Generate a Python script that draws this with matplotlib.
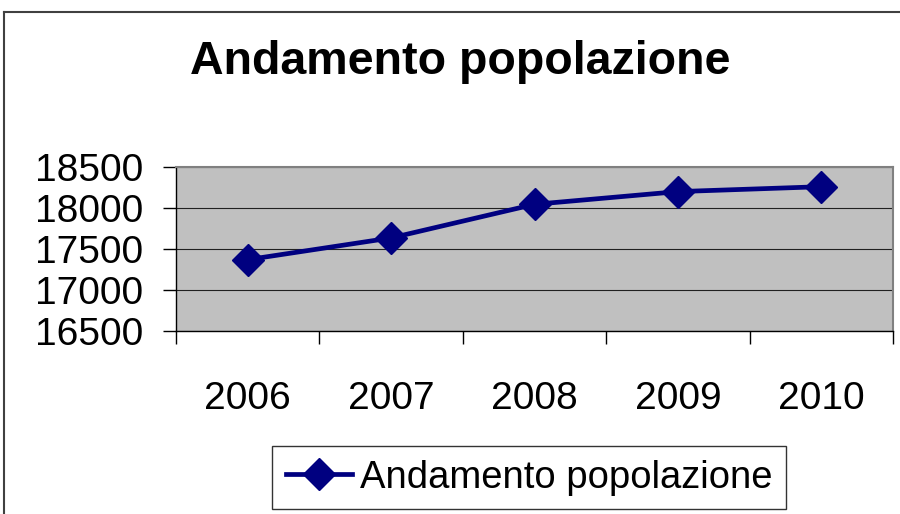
"""Andamento popolazione 2006-2010: Excel-style line chart."""
import matplotlib
matplotlib.use("Agg")
import matplotlib.pyplot as plt
from matplotlib.lines import Line2D

plt.rcParams["font.family"] = ["Liberation Sans", "DejaVu Sans"]

anni = ["2006", "2007", "2008", "2009", "2010"]
popolazione = [17370, 17635, 18045, 18200, 18260]
y_ticks = [16500, 17000, 17500, 18000, 18500]
titolo = "Andamento popolazione"
serie = "Andamento popolazione"

fig = plt.figure(figsize=(9, 5.14), dpi=100)
W, H = 900, 514
ax = fig.add_axes([176 / W, 1 - 331 / H, (893 - 176) / W, (331 - 167) / H])
ax.set_facecolor("#C0C0C0")

x = list(range(len(anni)))
ax.plot(x, popolazione, color="#000080", lw=3.4, marker="D", ms=16,
        mfc="#000080", mec="#000080", label=serie, solid_joinstyle="round")

ax.set_xlim(-0.5, len(anni) - 0.5)
ax.set_ylim(y_ticks[0], y_ticks[-1])
ax.set_yticks(y_ticks)
ax.set_yticklabels([str(v) for v in y_ticks])
ax.set_xticks(x)
ax.set_xticklabels(anni)
ax.set_xticks([i - 0.5 for i in range(len(anni) + 1)], minor=True)
ax.tick_params(axis="x", which="major", length=0, pad=36, labelsize=28)
ax.tick_params(axis="x", which="minor", length=9, width=1, color="black")
ax.tick_params(axis="y", length=9.5, width=1, pad=14, labelsize=28, color="black")
ax.yaxis.grid(True, color="#202020", lw=0.8)
ax.set_axisbelow(True)

for side in ("top", "right"):
    ax.spines[side].set_color("#808080")
    ax.spines[side].set_linewidth(1.5)
for side in ("left", "bottom"):
    ax.spines[side].set_color("black")
    ax.spines[side].set_linewidth(1)

fig.text(460 / W, 1 - 62 / H, titolo, ha="center", va="center",
         fontsize=33.5, fontweight="bold")

leg = fig.legend(loc="center", bbox_to_anchor=(529 / W, 1 - 477.5 / H),
                 fontsize=27.5, frameon=True, fancybox=False, edgecolor="black",
                 handlelength=1.75, handletextpad=0.2, borderpad=0.35,
                 borderaxespad=0)
leg.get_frame().set_linewidth(1)

# outer chart border (left and top edges visible)
fig.add_artist(Line2D([4 / W, 4 / W], [0, 1 - 12 / H], color="#404040", lw=1.5))
fig.add_artist(Line2D([4 / W, 1], [1 - 12 / H, 1 - 12 / H], color="#404040", lw=1.5))

fig.savefig("out.png", dpi=100)
